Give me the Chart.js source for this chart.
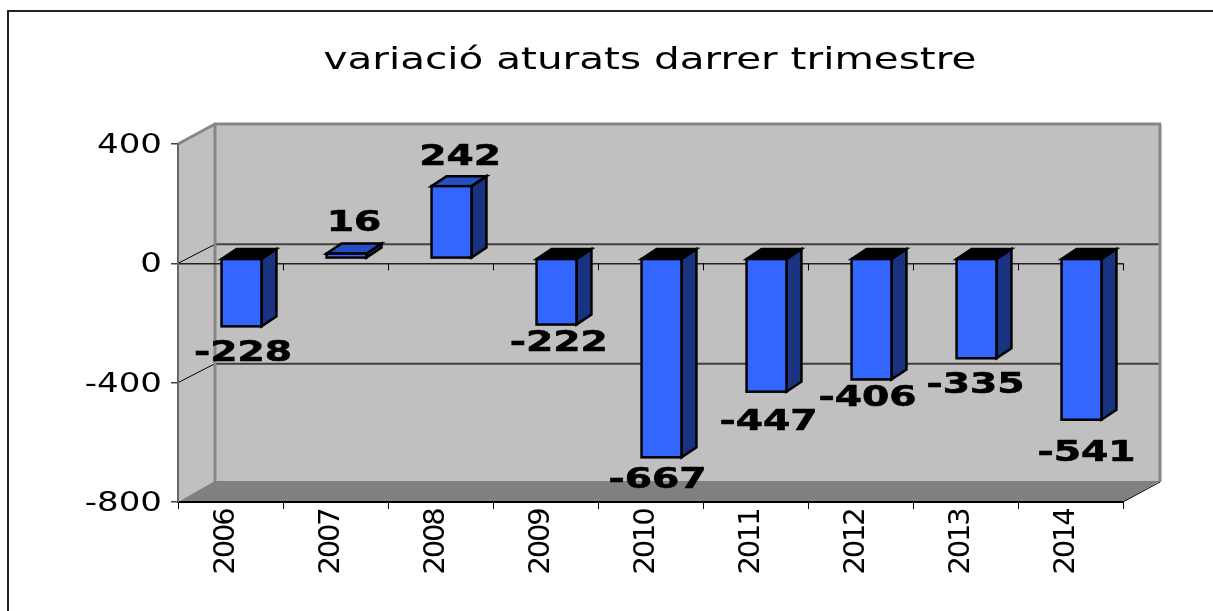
<!DOCTYPE html>
<html><head><meta charset="utf-8">
<style>html,body{margin:0;padding:0;background:#fff}#w{width:1213px;height:611px;position:relative}</style>
<script src="https://cdn.jsdelivr.net/npm/chart.js@4"></script></head>
<body><div id="w"><canvas id="c" width="1213" height="611"></canvas></div>
<script>
const categories = ['2006','2007','2008','2009','2010','2011','2012','2013','2014'];
const values = [-228,16,242,-222,-667,-447,-406,-335,-541];
const yTicks = [400,0,-400,-800];
const titleText = 'variació aturats darrer trimestre';

// layout of the pseudo-3D box
const WALL = {dx:37, dy:-20};
const BAR = {dx:11, dy:-5, depthX:15, depthY:-10, outline:2.5};
const labelNudgeX = [1.5,7.6,8.7,2.3,-4,2,-4,-1,5];
const labelNudgeY = [27,-30,-29,19,23,31,19,27,33];
const FRONT='#3366ff', SIDE='#1a3380', TOPPOS='#2450c4';

function stretched(ctx,text,x,y,font,sx,color,align,angle,spacing,heavy){
  ctx.save();ctx.translate(x,y);if(angle)ctx.rotate(angle);ctx.scale(sx,1);
  ctx.font=font;ctx.fillStyle=color;ctx.textAlign=align||'center';ctx.textBaseline='middle';
  if(spacing)ctx.letterSpacing=spacing;
  ctx.fillText(text,0,0);
  if(heavy){ctx.strokeStyle=color;ctx.lineWidth=heavy;ctx.strokeText(text,0,0);}
  ctx.restore();
}
function poly(ctx,pts,fill,stroke,lw){
  ctx.beginPath();pts.forEach((p,i)=>i?ctx.lineTo(p[0],p[1]):ctx.moveTo(p[0],p[1]));ctx.closePath();
  if(fill){ctx.fillStyle=fill;ctx.fill();}
  if(stroke){ctx.strokeStyle=stroke;ctx.lineWidth=lw;ctx.lineJoin='miter';ctx.stroke();}
}
function line(ctx,x1,y1,x2,y2,c,w){ctx.beginPath();ctx.moveTo(x1,y1);ctx.lineTo(x2,y2);ctx.strokeStyle=c;ctx.lineWidth=w;ctx.stroke();}

const box3d = {
  id:'box3d',
  beforeDraw(chart){
    const {ctx,chartArea:a,scales:{y}}=chart;
    const dx=WALL.dx,dy=WALL.dy;
    ctx.save();
    // outer frame: left and top edges only, the others leave the picture
    ctx.strokeStyle='#222';ctx.lineWidth=2;ctx.beginPath();
    ctx.moveTo(8,611);ctx.lineTo(8,11);ctx.lineTo(1213,11);ctx.stroke();
    // side wall, back wall, floor
    poly(ctx,[[a.left,a.top],[a.left+dx,a.top+dy],[a.left+dx,a.bottom+dy],[a.left,a.bottom]],'#c0c0c0');
    poly(ctx,[[a.left+dx,a.top+dy],[a.right+dx,a.top+dy],[a.right+dx,a.bottom+dy],[a.left+dx,a.bottom+dy]],'#c0c0c0');
    poly(ctx,[[a.left,a.bottom],[a.left+dx,a.bottom+dy-1],[a.right+dx,a.bottom+dy-1],[a.right,a.bottom]],'#808080');
    // wall gridlines
    yTicks.slice(1,3).forEach(v=>{
      const p=y.getPixelForValue(v);
      line(ctx,a.left+dx,p+dy+1,a.right+dx,p+dy+1,'#404040',2);
      line(ctx,a.left,p,a.left+dx,p+dy+1,'#000',1);
    });
    // wall edges
    line(ctx,a.left+dx,a.bottom+dy,a.left+dx,a.top+dy,'#868686',3);
    line(ctx,a.left+dx-1,a.top+dy,a.right+dx+1,a.top+dy,'#868686',3);
    line(ctx,a.right+dx,a.top+dy,a.right+dx,a.bottom+dy,'#868686',3);
    line(ctx,a.left,a.top,a.left+dx,a.top+dy,'#868686',3);
    line(ctx,a.right,a.bottom,a.right+dx,a.bottom+dy,'#000',1);
    ctx.restore();
  },
  afterDraw(chart){
    const {ctx,chartArea:a,scales:{x,y}}=chart;
    ctx.save();
    // axis labels
    y.ticks.filter(t=>yTicks.includes(t.value)).forEach(t=>{
      stretched(ctx,String(t.value),a.left-16,y.getPixelForValue(t.value)+2,'27px "DejaVu Sans"',1.26,'#000','right');
    });
    x.ticks.forEach((t,i)=>{
      stretched(ctx,categories[i],x.getPixelForValue(i)-4,542,'29px "DejaVu Sans"',1,'#000','center',-Math.PI/2,'-2.2px');
    });
    stretched(ctx,titleText,650,61,'30px "DejaVu Sans"',1.35,'#000');
    // data labels
    chart.getDatasetMeta(0).data.forEach((b,i)=>{
      const lx=b.x+BAR.dx+labelNudgeX[i], ly=b.y+BAR.dy+labelNudgeY[i];
      stretched(ctx,String(values[i]),lx,ly+.5,'bold 28px "DejaVu Sans"',1.4,'#000','center',0,'',.6);
    });
    ctx.restore();
  },
  beforeDatasetDraw(chart){
    const {ctx,scales:{y}}=chart;
    // ticks on the zero line, behind the bars
    const z=y.getPixelForValue(0);
    const a=chart.chartArea;
    ctx.save();
    for(let i=1;i<=categories.length;i++){
      const px=Math.round(a.left+i*a.width/categories.length)+.5;
      line(ctx,px,z,px,z+7,'#000',1);
    }
    ctx.restore();
    ctx.save();
    ctx.translate(BAR.dx,BAR.dy);
    const dx=BAR.depthX,dy=BAR.depthY;
    chart.getDatasetMeta(0).data.forEach((b,i)=>{
      const L=b.x-b.width/2,R=b.x+b.width/2,T=Math.min(b.y,b.base),B=Math.max(b.y,b.base);
      poly(ctx,[[R,T],[R+dx,T+dy],[R+dx,B+dy],[R,B]],SIDE,'#000',BAR.outline);
      poly(ctx,[[L,T],[L+dx,T+dy],[R+dx,T+dy],[R,T]],values[i]<0?'#000':TOPPOS,'#000',BAR.outline);
    });
  },
  afterDatasetDraw(chart){
    const ctx=chart.ctx;
    chart.getDatasetMeta(0).data.forEach(b=>{
      const L=b.x-b.width/2,T=Math.min(b.y,b.base),H=Math.abs(b.y-b.base);
      ctx.strokeStyle='#000';ctx.lineWidth=BAR.outline;ctx.lineJoin='miter';
      ctx.strokeRect(L,T,b.width,H);
    });
    ctx.restore();
  }
};

new Chart(document.getElementById('c'),{
  type:'bar',
  data:{labels:categories,datasets:[{data:values,backgroundColor:FRONT,borderWidth:0,
    barPercentage:.38,categoryPercentage:1}]},
  plugins:[box3d],
  options:{
    responsive:false,animation:false,
    layout:{padding:{left:178,top:144,right:90,bottom:109}},
    plugins:{legend:{display:false},title:{display:false},tooltip:{enabled:false}},
    scales:{
      x:{afterFit(s){s.height=0},ticks:{display:false},
        grid:{drawOnChartArea:false,drawTicks:true,tickLength:7,tickColor:'#000',offset:true},
        border:{color:'#000',width:2}},
      y:{min:-800,max:400,afterFit(s){s.width=0},
        afterBuildTicks(s){s.ticks=yTicks.map(v=>({value:v}));},
        ticks:{display:false},
        grid:{tickLength:7,tickColor:'#404040',
          color:c=>c.tick&&c.tick.value===0?'#222':'rgba(0,0,0,0)',lineWidth:1.5},
        border:{color:'#666',width:2}}
    }
  }
});
</script></body></html>
